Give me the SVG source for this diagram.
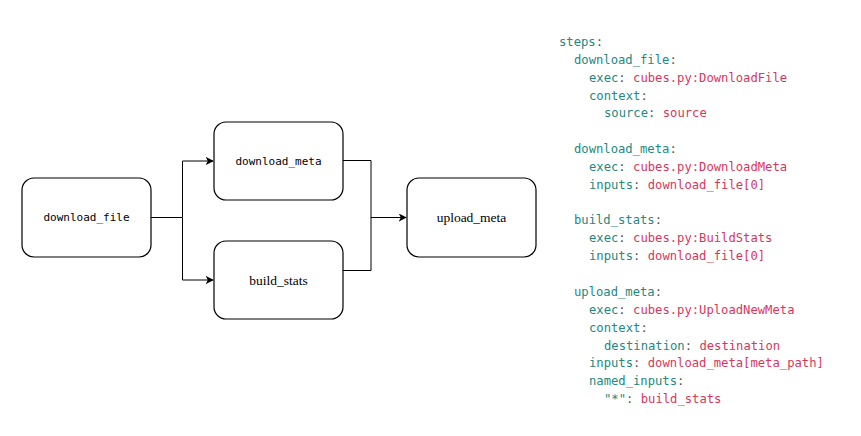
<svg xmlns="http://www.w3.org/2000/svg" width="861" height="436" viewBox="0 0 861 436">
<style>
.node rect{fill:#fff;stroke:#000;stroke-width:1.2}
.mono{font-family:"DejaVu Sans Mono","Liberation Mono",monospace;font-size:11px;fill:#000}
.serif{font-family:"Liberation Serif","DejaVu Serif",serif;font-size:13.5px;fill:#000}
.edge{fill:none;stroke:#000;stroke-width:1}
.code{font-family:"DejaVu Sans Mono","Liberation Mono",monospace;font-size:12.2px;white-space:pre}
.k{fill:#23897f}
.v{fill:#d7375d}
.p{fill:#555}
</style>
<defs>
<marker id="arr" viewBox="0 0 10 10" refX="9" refY="5" markerWidth="8" markerHeight="8" markerUnits="userSpaceOnUse" orient="auto">
<path d="M0,0 L10,5 L0,10 L2.5,5 Z" fill="#000"/>
</marker>
</defs>
<rect width="861" height="436" fill="#fff"/>
<g id="connectors">
<path class="edge" d="M151,217.5 H182.5 V161 H213" marker-end="url(#arr)"/>
<path class="edge" d="M182.5,217.5 V280 H213" marker-end="url(#arr)"/>
<path class="edge" d="M343,160.5 H371 V270.5 H343"/>
<path class="edge" d="M371,217.5 H406" marker-end="url(#arr)"/>
</g>
<g id="download_file" class="node">
<rect x="22" y="178" width="129" height="79" rx="12"/>
<text class="mono" x="86.5" y="221" text-anchor="middle">download_file</text>
</g>
<g id="download_meta" class="node">
<rect x="214" y="122" width="129" height="78" rx="12"/>
<text class="mono" x="278.5" y="165" text-anchor="middle">download_meta</text>
</g>
<g id="build_stats" class="node">
<rect x="214" y="241" width="129" height="78" rx="12"/>
<text class="serif" x="278.5" y="284.5" text-anchor="middle">build_stats</text>
</g>
<g id="upload_meta" class="node">
<rect x="407" y="178" width="129" height="79" rx="12"/>
<text class="serif" x="471.5" y="221.5" text-anchor="middle">upload_meta</text>
</g>
<g id="yaml" class="code">
<text x="559" y="45.5"><tspan class="k">steps</tspan><tspan class="p">:</tspan></text>
<text x="574" y="63.5"><tspan class="k">download_file</tspan><tspan class="p">:</tspan></text>
<text x="589" y="81.5"><tspan class="k">exec</tspan><tspan class="p">: </tspan><tspan class="v">cubes.py:DownloadFile</tspan></text>
<text x="589" y="99.5"><tspan class="k">context</tspan><tspan class="p">:</tspan></text>
<text x="604" y="116.5"><tspan class="k">source</tspan><tspan class="p">: </tspan><tspan class="v">source</tspan></text>
<text x="574" y="152.5"><tspan class="k">download_meta</tspan><tspan class="p">:</tspan></text>
<text x="589" y="170.5"><tspan class="k">exec</tspan><tspan class="p">: </tspan><tspan class="v">cubes.py:DownloadMeta</tspan></text>
<text x="589" y="188.5"><tspan class="k">inputs</tspan><tspan class="p">: </tspan><tspan class="v">download_file[0]</tspan></text>
<text x="574" y="223.5"><tspan class="k">build_stats</tspan><tspan class="p">:</tspan></text>
<text x="589" y="241.5"><tspan class="k">exec</tspan><tspan class="p">: </tspan><tspan class="v">cubes.py:BuildStats</tspan></text>
<text x="589" y="259.5"><tspan class="k">inputs</tspan><tspan class="p">: </tspan><tspan class="v">download_file[0]</tspan></text>
<text x="574" y="295.5"><tspan class="k">upload_meta</tspan><tspan class="p">:</tspan></text>
<text x="589" y="313.5"><tspan class="k">exec</tspan><tspan class="p">: </tspan><tspan class="v">cubes.py:UploadNewMeta</tspan></text>
<text x="589" y="331.5"><tspan class="k">context</tspan><tspan class="p">:</tspan></text>
<text x="604" y="349.5"><tspan class="k">destination</tspan><tspan class="p">: </tspan><tspan class="v">destination</tspan></text>
<text x="589" y="366.5"><tspan class="k">inputs</tspan><tspan class="p">: </tspan><tspan class="v">download_meta[meta_path]</tspan></text>
<text x="589" y="384.5"><tspan class="k">named_inputs</tspan><tspan class="p">:</tspan></text>
<text x="604" y="402.5"><tspan class="k">"*"</tspan><tspan class="p">: </tspan><tspan class="v">build_stats</tspan></text>
</g>
</svg>
